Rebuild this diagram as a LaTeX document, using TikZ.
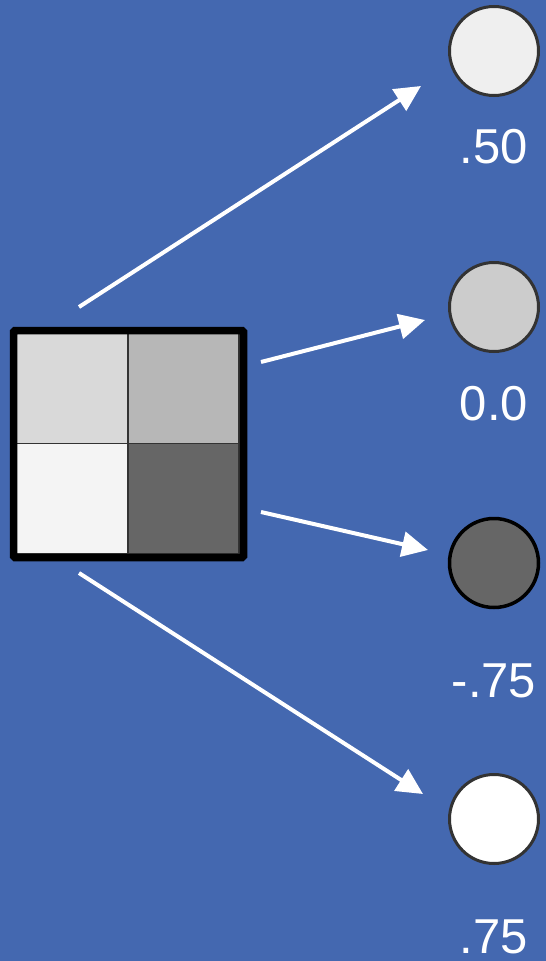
\documentclass[tikz,border=0pt]{standalone}
\usepackage{fontspec}
\setmainfont{Liberation Sans}
\usetikzlibrary{arrows.meta}
\definecolor{bg}{HTML}{4468B0}
\definecolor{ring}{HTML}{333333}
\tikzset{
  unit/.style={circle, draw=ring, line width=3pt, minimum size=89pt, inner sep=0pt},
  cell/.style={rectangle, draw=ring, line width=1.5pt, minimum width=111pt, minimum height=110pt, inner sep=0pt},
  val/.style={text=white, anchor=base, inner sep=0pt, font=\fontsize{49}{58}\selectfont},
  link/.style={white, line width=4pt, -{Triangle[length=26pt,width=25pt]}}
}
\begin{document}
\begin{tikzpicture}[x=1pt,y=-1pt]
\useasboundingbox[fill=bg] (0,0) rectangle (546,961);
% grid cells
\node[cell, fill={rgb,255:red,217;green,217;blue,217}] (c11) at (72,388.5) {};
\node[cell, fill={rgb,255:red,183;green,183;blue,183}] (c12) at (183.5,388.5) {};
\node[cell, fill={rgb,255:red,244;green,244;blue,244}] (c21) at (72,498.5) {};
\node[cell, fill={rgb,255:red,102;green,102;blue,102}] (c22) at (183.5,498.5) {};
\node[rectangle, draw=black, line width=7.5pt, rounded corners=1.5pt, minimum width=230pt, minimum height=227pt, inner sep=0pt] (grid) at (128.5,444) {};
% output units
\node[unit, fill={rgb,255:red,239;green,239;blue,239}] (u1) at (494,51) {};
\node[unit, fill={rgb,255:red,204;green,204;blue,204}] (u2) at (494,307) {};
\node[unit, draw=black, line width=3.5pt, fill={rgb,255:red,102;green,102;blue,102}] (u3) at (494,563) {};
\node[unit, fill=white] (u4) at (494,819) {};
% labels
\node[val] (l1) at (494,163) {.50};
\node[val] (l2) at (494,420) {0.0};
\node[val] (l3) at (494,697) {-.75};
\node[val] (l4) at (494,953) {.75};
% arrow ends
\coordinate (s1) at (79,307);
\coordinate (t1) at (421,86);
\coordinate (s2) at (261,362);
\coordinate (t2) at (425,320);
\coordinate (s3) at (261,512);
\coordinate (t3) at (428,550);
\coordinate (s4) at (79,573);
\coordinate (t4) at (423,794);
\draw[link] (s1) -- (t1);
\draw[link] (s2) -- (t2);
\draw[link] (s3) -- (t3);
\draw[link] (s4) -- (t4);
\end{tikzpicture}
\end{document}
